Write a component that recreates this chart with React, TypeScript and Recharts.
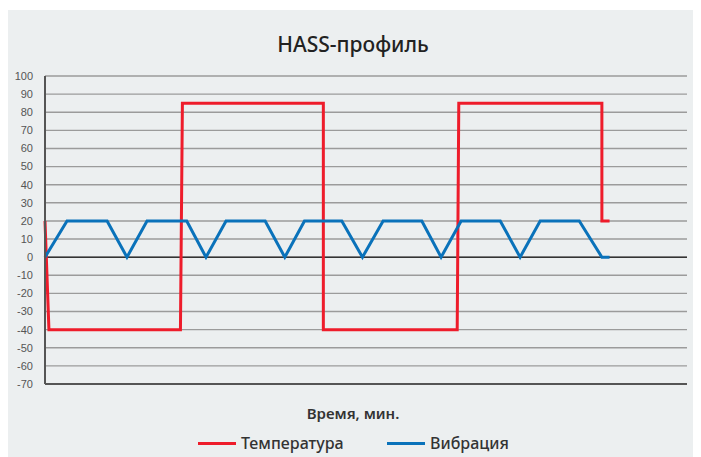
import { LineChart, Line, XAxis, YAxis, CartesianGrid, ReferenceLine } from "recharts";

// time axis (minutes)
const vibTime = [0, 1.12, 3.16, 4.17, 5.19, 7.21, 8.19, 9.21, 11.2, 12.2, 13.2, 15.1, 16.15, 17.2, 19.17, 20.15, 21.17, 23.16, 24.17, 25.19, 27.18, 28.33, 28.72];
const vibValue = [0, 20, 20, 0, 20, 20, 0, 20, 20, 0, 20, 20, 0, 20, 20, 0, 20, 20, 0, 20, 20, 0, 0];

const tempTime = [0, 0.2, 6.89, 6.99, 14.16, 14.16, 20.97, 21.05, 28.33, 28.33, 28.72];
const tempValue = [20, -40, -40, 85, 85, -40, -40, 85, 85, 20, 20];

const yTicks = [100, 90, 80, 70, 60, 50, 40, 30, 20, 10, 0, -10, -20, -30, -40, -50, -60, -70];

const series = [
  { name: "Температура", color: "#EE1C2B", time: tempTime, values: tempValue, legendX: 198 },
  { name: "Вибрация", color: "#0A72BA", time: vibTime, values: vibValue, legendX: 387 },
];

const font = "'Noto Sans', sans-serif";

export default function App() {
  return (
    <div style={{ position: "relative", width: 701, height: 457, margin: "-8px 0 0 -8px", background: "#fff" }}>
      <div style={{ position: "absolute", left: 5, top: 10, width: 696, height: 447, background: "#ECEFF0" }} />
      <div style={{ position: "absolute", left: 0, top: 0 }}>
        <LineChart width={701} height={457} margin={{ top: 76, right: 14, bottom: 73, left: 15 }}>
          <CartesianGrid vertical={false} stroke="#9b9b9b" strokeWidth={1.4} />
          <XAxis type="number" dataKey="t" domain={[0, 32.66]} hide />
          <YAxis
            type="number"
            domain={[-70, 100]}
            ticks={yTicks}
            interval={0}
            width={30}
            tickLine={false}
            tickMargin={6}
            axisLine={{ stroke: "#555", strokeWidth: 2 }}
            tick={{ fill: "#555", fontSize: 11, fontFamily: "'Liberation Sans Narrow', 'Liberation Sans', sans-serif" }}
          />
          <ReferenceLine y={0} stroke="#333" strokeWidth={1.4} />
          <ReferenceLine y={-70} stroke="#555" strokeWidth={2} />
          {series.map((s) => (
            <Line
              key={s.name}
              name={s.name}
              data={s.time.map((t, i) => ({ t, v: s.values[i] }))}
              dataKey="v"
              type="linear"
              stroke={s.color}
              strokeWidth={3}
              dot={false}
              isAnimationActive={false}
            />
          ))}
        </LineChart>
      </div>
      <div style={{ position: "absolute", left: 5, width: 696, top: 30, textAlign: "center", fontFamily: font, fontSize: 21, fontWeight: 500, color: "#222" }}>
        HASS-профиль
      </div>
      <div style={{ position: "absolute", left: 5, width: 696, top: 403, textAlign: "center", fontFamily: font, fontSize: 15, fontWeight: 600, color: "#333" }}>
        Время, мин.
      </div>
      {series.map((s) => (
        <div key={s.name} style={{ position: "absolute", left: s.legendX, top: 432, display: "flex", alignItems: "center", fontFamily: font, fontSize: 16, fontWeight: 500, color: "#333" }}>
          <span style={{ display: "inline-block", width: 38, height: 3, background: s.color, marginRight: 5 }} />
          {s.name}
        </div>
      ))}
    </div>
  );
}
